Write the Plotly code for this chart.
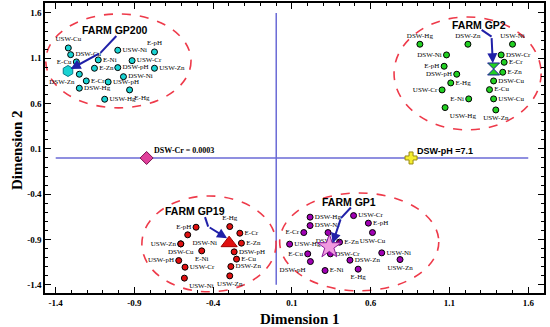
import plotly.graph_objects as go

# ---------------- data ----------------
gp200_labels = ["USW-Cu", "DSW-Cu", "E-Cu", "DSW-Zn", "E-Cr", "DSW-Hg", "E-Ni", "E-Zn", "USW-Ni",
                "USW-pH", "USW-Hg", "DSW-pH", "DSW-Ni", "E-Hg", "USW-Cr", "E-pH", "USW-Zn"]
gp200_x = [-1.320, -1.305, -1.269, -1.250, -1.206, -1.250, -1.130, -1.154, -1.006,
           -1.067, -1.089, -1.006, -0.970, -0.931, -0.915, -0.773, -0.773]
gp200_y = [1.214, 1.140, 1.060, 0.924, 0.850, 0.770, 1.082, 0.990, 1.189,
           0.839, 0.648, 0.997, 0.897, 0.751, 1.074, 1.170, 0.990]

gp2_labels = ["DSW-Hg", "DSW-Zn", "USW-Ni", "DSW-Ni", "DSW-Cr", "E-pH", "E-Cr", "E-Zn", "DSW-pH",
              "E-Hg", "DSW-Cu", "USW-Cr", "E-Cu", "E-Ni", "USW-Cu", "USW-Hg", "USW-Zn"]
gp2_x = [0.912, 1.217, 1.500, 1.081, 1.428, 1.066, 1.447, 1.438, 1.146,
         1.108, 1.380, 1.053, 1.354, 1.222, 1.380, 1.072, 1.394]
gp2_y = [1.255, 1.255, 1.255, 1.137, 1.137, 1.012, 1.056, 0.946, 0.924,
         0.828, 0.850, 0.751, 0.754, 0.652, 0.652, 0.556, 0.530]

gp19_labels = ["E-pH", "E-Hg", "E-Cr", "DSW-Ni", "E-Zn", "USW-Zn", "DSW-Cu", "E-Ni", "DSW-pH",
               "USW-pH", "E-Cu", "USW-Cr", "DSW-Zn", "USW-Ni", "USW-Zn"]
gp19_x = [-0.509, -0.295, -0.231, -0.562, -0.221, -0.606, -0.606, -0.473, -0.267,
          -0.619, -0.252, -0.579, -0.288, -0.583, -0.295]
gp19_y = [-0.764, -0.757, -0.830, -0.848, -0.940, -0.948, -0.948, -1.025, -1.036,
          -1.132, -1.116, -1.205, -1.198, -1.326, -1.301]

gp1_labels = ["DSW-Hg", "USW-Cr", "E-pH", "DSW-Ni", "E-Cr", "DSW-Cr", "USW-Cu", "USW-Hg", "E-Zn",
              "E-Cu", "DSW-Cr", "USW-Ni", "DSW-pH", "DSW-Zn", "USW-Zn", "E-Ni", "E-Hg"]
gp1_x = [0.215, 0.491, 0.585, 0.215, 0.175, 0.329, 0.611, 0.085, 0.402,
         0.200, 0.344, 0.670, 0.217, 0.468, 0.786, 0.310, 0.520]
gp1_y = [-0.653, -0.636, -0.719, -0.746, -0.823, -0.823, -0.823, -0.951, -0.929,
         -1.058, -1.058, -1.047, -1.143, -1.128, -1.121, -1.242, -1.227]

# farm centroids
farm_names = ["FARM GP200", "FARM GP2", "FARM GP19", "FARM GP1"]
centroid_x = [-1.322, 1.380, -0.299, 0.337]
centroid_y = [0.960, 0.982, -0.940, -0.978]

# ellipse centres / semi-axes
ell_cx = [-1.002, 1.215, -0.427, 0.527]
ell_cy = [1.071, 0.933, -0.948, -0.926]
ell_rx = [0.461, 0.467, 0.426, 0.505]
ell_ry = [0.518, 0.623, 0.529, 0.540]

# reference points
ref_labels = ["DSW-Cr = 0.0003", "DSW-pH =7.1"]
ref_x = [-0.823, 0.856]
ref_y = [0.0, 0.0]

x_ticks = [-1.4, -0.9, -0.4, 0.1, 0.6, 1.1, 1.6]
y_ticks = [-1.4, -0.9, -0.4, 0.1, 0.6, 1.1, 1.6]

# ---------------- styles ----------------
pos200 = ["top center", "middle right", "middle left", "bottom left", "middle right", "middle right",
          "middle right", "middle right", "middle right", "middle right", "middle right", "middle right",
          "middle right", "bottom right", "middle right", "top center", "middle right"]
pos2 = ["top center", "top center", "top center", "middle left", "middle right", "middle left",
        "middle right", "middle right", "middle left", "middle right", "middle right", "middle left",
        "middle right", "middle left", "middle right", "bottom right", "bottom center"]
pos19 = ["middle left", "top center", "middle right", "bottom right", "middle right", "middle left",
         "bottom center", "bottom center", "middle right", "middle left", "middle right", "middle right",
         "middle right", "bottom right", "bottom center"]
pos1 = ["middle right", "middle right", "middle right", "middle right", "middle left", "bottom center",
        "bottom center", "middle right", "middle right", "middle left", "middle right", "middle right",
        "bottom left", "middle right", "bottom center", "middle right", "bottom center"]

lab_font = dict(family="Liberation Serif", size=7, color="black")

fig = go.Figure()

# reference cross lines
fig.add_shape(type="line", x0=0, x1=0, y0=-1.4, y1=1.6, line=dict(color="#6a6ad6", width=1.5), layer="below")
fig.add_shape(type="line", x0=-1.4, x1=1.6, y0=0, y1=0, line=dict(color="#6a6ad6", width=1.5), layer="below")

# ellipses
for cx, cy, rx, ry in zip(ell_cx, ell_cy, ell_rx, ell_ry):
    fig.add_shape(type="circle", x0=cx - rx, x1=cx + rx, y0=cy - ry, y1=cy + ry,
                  line=dict(color="#ee3a4a", width=1.6, dash="dash"), layer="below")

groups = [
    (gp200_x, gp200_y, gp200_labels, pos200, "#19d3d3"),
    (gp2_x, gp2_y, gp2_labels, pos2, "#22d022"),
    (gp19_x, gp19_y, gp19_labels, pos19, "#e01010"),
    (gp1_x, gp1_y, gp1_labels, pos1, "#a000b4"),
]
for gx, gy, gl, gp, col in groups:
    fig.add_trace(go.Scatter(x=gx, y=gy, mode="markers+text", text=gl, textposition=gp,
                             textfont=lab_font,
                             marker=dict(size=6, color=col, line=dict(color="black", width=1)),
                             showlegend=False, cliponaxis=False))

# centroid markers
cent_sym = ["hexagon", "hourglass", "triangle-up", "star"]
cent_col = ["#19d3d3", "#22d022", "#e01010", "#f09ae0"]
cent_line = ["#0a7a8a", "#1a1a9a", "#a00000", "#8a1a9a"]
cent_size = [11, 12, 14, 18]
for i in range(4):
    fig.add_trace(go.Scatter(x=[centroid_x[i]], y=[centroid_y[i]], mode="markers",
                             marker=dict(symbol=cent_sym[i], size=cent_size[i], color=cent_col[i],
                                         line=dict(color=cent_line[i], width=1)),
                             showlegend=False))

# reference points
fig.add_trace(go.Scatter(x=[ref_x[0]], y=[ref_y[0]], mode="markers",
                         marker=dict(symbol="diamond", size=10, color="#e0409a",
                                     line=dict(color="#7a1050", width=1)), showlegend=False))
fig.add_trace(go.Scatter(x=[ref_x[1]], y=[ref_y[1]], mode="markers",
                         marker=dict(symbol="cross", size=10, color="#f5ee30",
                                     line=dict(color="#9a8a10", width=1)), showlegend=False))
fig.add_annotation(x=ref_x[0], y=ref_y[0], text="<b>" + ref_labels[0] + "</b>", showarrow=False,
                   xanchor="left", yanchor="bottom", xshift=5, yshift=1,
                   font=dict(family="Liberation Serif", size=8, color="black"))
fig.add_annotation(x=ref_x[1], y=ref_y[1], text="<b>" + ref_labels[1] + "</b>", showarrow=False,
                   xanchor="left", yanchor="bottom", xshift=4, yshift=0,
                   font=dict(family="Liberation Sans", size=9, color="black"))

# farm titles and arrows
title_x = [-1.021, 1.285, -0.515, 0.464]
title_y = [1.413, 1.468, -0.585, -0.481]
arrow_paths = [
    [(-1.015, 1.346), (-1.116, 1.159), (-1.305, 0.982)],
    [(1.304, 1.413), (1.367, 1.339), (1.375, 1.045)],
    [(-0.452, -0.653), (-0.432, -0.757), (-0.312, -0.885)],
    [(0.474, -0.547), (0.411, -0.664), (0.358, -0.940)],
]
for i in range(4):
    fig.add_annotation(x=title_x[i], y=title_y[i], text="<b>" + farm_names[i] + "</b>", showarrow=False,
                       font=dict(family="Liberation Sans", size=10.5, color="black"))
    p = arrow_paths[i]
    fig.add_trace(go.Scatter(x=[p[0][0], p[1][0]], y=[p[0][1], p[1][1]], mode="lines",
                             line=dict(color="#2020a8", width=2), showlegend=False))
    fig.add_annotation(x=p[2][0], y=p[2][1], ax=p[1][0], ay=p[1][1], axref="x", ayref="y",
                       xref="x", yref="y", text="", showarrow=True, arrowhead=2, arrowsize=1,
                       arrowwidth=2, arrowcolor="#2020a8")

axis_common = dict(
    showgrid=False, zeroline=False, showline=True, linecolor="black", linewidth=1.5, mirror="ticks",
    ticks="inside", ticklen=6, tickwidth=1, tickcolor="black", automargin=False,
    tickfont=dict(family="Liberation Serif", size=9, color="black", weight="bold"),
    minor=dict(ticks="inside", ticklen=3, tickwidth=1, tickcolor="black", dtick=0.1, tick0=-1.4),
)
fig.update_xaxes(range=[-1.468, 1.70], tickvals=x_ticks, ticktext=[str(v) for v in x_ticks], **axis_common)
fig.update_yaxes(range=[-1.49, 1.71], tickvals=y_ticks, ticktext=[str(v) for v in y_ticks], **axis_common)

fig.add_annotation(xref="paper", yref="paper", x=0.511, y=0, yanchor="middle", yshift=-26,
                   text="<b>Dimension 1</b>", showarrow=False,
                   font=dict(family="Liberation Serif", size=15, color="black"))
fig.add_annotation(xref="paper", yref="paper", x=0, y=0.493, xanchor="center", xshift=-28,
                   text="<b>Dimension 2</b>", showarrow=False, textangle=-90,
                   font=dict(family="Liberation Serif", size=15, color="black"))

fig.update_layout(width=550, height=327, margin=dict(l=45, r=6, t=3, b=34),
                  plot_bgcolor="white", paper_bgcolor="white", showlegend=False)

fig.write_html("out.html", config={"displayModeBar": False},
               post_script="document.body.style.margin='0px';")
